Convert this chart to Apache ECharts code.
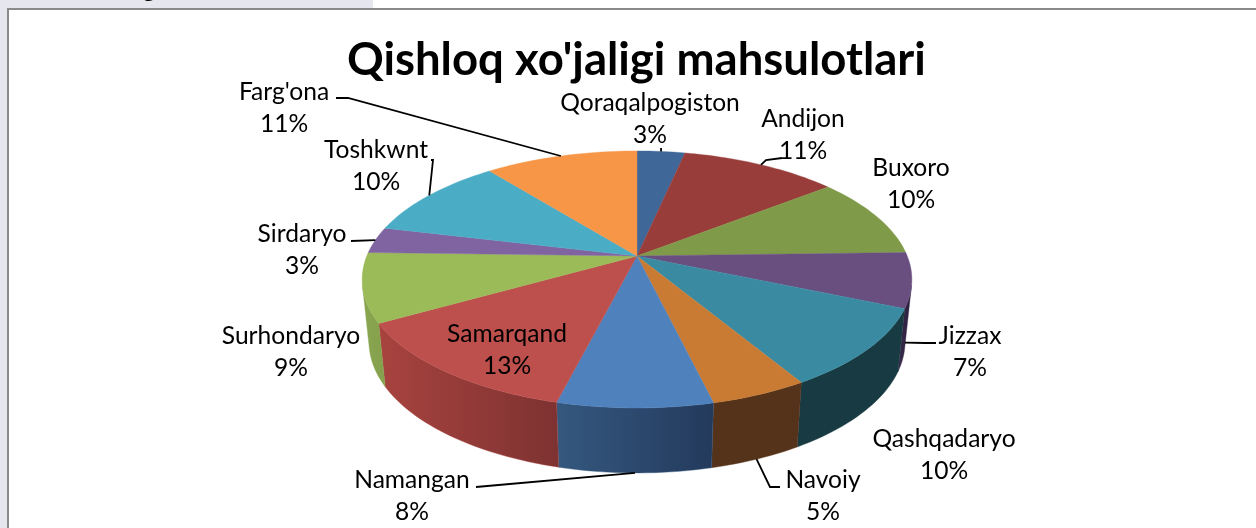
<!DOCTYPE html>
<html><head><meta charset="utf-8">
<style>html,body{margin:0;padding:0;background:#fff}#c{width:1256px;height:528px}</style>
<script src="https://cdn.jsdelivr.net/npm/echarts@6/dist/echarts.min.js"></script>
</head><body><div id="c"></div>
<script>
const chartTitle = "Qishloq xo'jaligi mahsulotlari";
const categories = ['Qoraqalpogiston','Andijon','Buxoro','Jizzax','Qashqadaryo','Navoiy','Namangan','Samarqand','Surhondaryo','Sirdaryo','Toshkwnt',"Farg'ona"];
const values = [3.3,10.9,10.1,6.9,10.1,4.9,7.8,13,8.7,3.3,10.45,10.55];
const topColors = ['#3f6797','#983d3a','#7f9a48','#694f80','#3a8ba2','#c97b34','#4f81bd','#bd4f4c','#9bbb59','#8064a2','#4bacc6','#f79646'];
const wallColors = [['#333','#333'],['#333','#333'],['#2f3d1c','#2f3d1c'],['#3a2b4c','#2b1f3c'],['#183a42','#183a42'],['#55331a','#55331a'],['#35587f','#233a5c'],['#a8433f','#7d3231'],['#8aa650','#84a04c'],['#444','#444'],['#333','#333'],['#333','#333']];
const labelCentres = [[650,119],[803,135],[911,184],[970,352],[944,455],[823,496],[412,496],[507,350],[291,352],[302,250],[376,166],[284,108]];
const leaderElbows = [[[661,148]],[[782,158],[766,160]],[],[[936,343],[925,343]],[],[[780,487],[770,487]],[[476,487]],[],[],[[351,241]],[[431,160],[433,160]],[[336,98],[348,98]]];
const leaderOnBase = [0,0,0,1,0,1,1,0,0,0,0,0];

const total = values.reduce((a,b)=>a+b,0);
const cumulative = values.map((_, i)=>values.slice(0,i).reduce((a,b)=>a+b,0));
const G = {cx:637, cy:258, apexY:256, r:271, tilt:124.9, p:0.167, baseX:0.975, baseY:1.02, baseDy:62, wallFrom:0.284, wallTo:0.716};

function rim(frac, base){
  const t = frac*2*Math.PI, X=Math.sin(t), Y=-Math.cos(t), w=1-G.p*Y;
  const x=G.r*X/w, y=G.tilt*Y/w;
  return base ? [G.cx+x*G.baseX, G.cy+y*G.baseY+G.baseDy] : [G.cx+x, G.cy+y];
}
function arc(a,b,base){
  const pts=[], n=Math.max(8,Math.ceil((b-a)*240));
  for(let k=0;k<=n;k++) pts.push(rim(a+(b-a)*k/n,base));
  return pts;
}
function renderItem(params, api){
  const i = params.dataIndex, v = api.value(0);
  const a = cumulative[i]/total, b = a+v/total;
  const top = arc(a,b,false);
  const g0 = wallColors[i][0], g1 = wallColors[i][1];
  const grad = {type:'linear',x:0,y:0,x2:1,y2:0,colorStops:[{offset:0,color:g0},{offset:1,color:g1}]};
  const kids = [
    {type:'polygon',z2:2,shape:{points:[[G.cx,G.apexY]].concat(top)},style:{fill:topColors[i],stroke:topColors[i],lineWidth:0.4}}
  ];
  const wa = Math.max(a,G.wallFrom), wb = Math.min(b,G.wallTo);
  if(wb>wa){
    kids.push({type:'polygon',z2:1,shape:{points:arc(wa,wb,false).concat(arc(wa,wb,true).reverse())},style:{fill:grad,stroke:g0,lineWidth:0.4}});
  }
  if(leaderElbows[i].length){
    const end = rim((a+b)/2, !!leaderOnBase[i]);
    kids.push({type:'polyline',z2:3,shape:{points:leaderElbows[i].concat([end])},style:{fill:'none',stroke:'#000',lineWidth:1.8}});
  }
  kids.push({type:'text',z2:4,style:{x:labelCentres[i][0],y:labelCentres[i][1],text:categories[i]+'\n'+Math.round(v)+'%',
    fill:'#000',fontFamily:'Lato',fontSize:24.6,lineHeight:32,align:'center',verticalAlign:'middle'}});
  return {type:'group',children:kids};
}
const chart = echarts.init(document.getElementById('c'),null,{renderer:'canvas'});
chart.setOption({
  animation:false,
  backgroundColor:'#fff',
  title:{text:chartTitle,left:342,top:32,textStyle:{fontFamily:'Lato',fontWeight:'bold',fontSize:45.5,color:'#000'}},
  graphic:[
    {type:'rect',z:-1,shape:{x:0,y:0,width:373,height:8},style:{fill:'#e6e6ee'}},
    {type:'rect',z:-1,shape:{x:0,y:0,width:7,height:528},style:{fill:'#e6e6ee'}},
    {type:'rect',z:-1,shape:{x:7,y:8,width:1249,height:2},style:{fill:'#8a8a8a'}},
    {type:'rect',z:-1,shape:{x:7,y:8,width:2,height:520},style:{fill:'#8a8a8a'}},
    {type:'text',z:0,style:{x:149,y:-13,text:'g',fill:'#000',fontFamily:'Lato',fontSize:28,align:'center',verticalAlign:'middle'}}
  ],
  series:[{type:'custom',coordinateSystem:'none',renderItem,data:values.map((v,i)=>({name:categories[i],value:[v]}))}]
});
</script></body></html>
